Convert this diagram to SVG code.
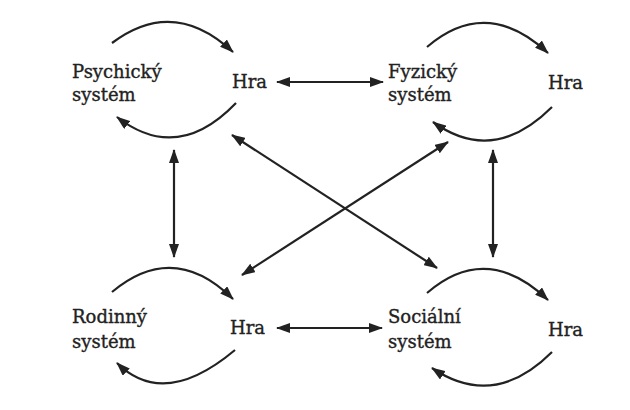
<svg xmlns="http://www.w3.org/2000/svg" width="630" height="410" viewBox="0 0 630 410">
<defs>
<style>
.t{font-family:'DejaVu Serif',serif;font-size:18px;fill:#222;stroke:#222;stroke-width:0.35}
.c{fill:none;stroke:#222;stroke-width:2.2}
</style>
<marker id="ah" viewBox="0 0 14 10" refX="13" refY="5" markerWidth="14" markerHeight="10" markerUnits="userSpaceOnUse" orient="auto-start-reverse">
<path d="M0,0 L14,5 L0,10 z" fill="#222"/>
</marker>
</defs>
<rect width="630" height="410" fill="#fff"/>
<g id="connectors">
<path class="c" d="M112,43 Q173.5,-3.5 233,52" marker-end="url(#ah)"/>
<path class="c" d="M236,103 Q177.5,164 117,117" marker-end="url(#ah)"/>
<path class="c" d="M427,47 Q486.5,-4 548,53" marker-end="url(#ah)"/>
<path class="c" d="M552,107 Q493.5,165.5 433,122" marker-end="url(#ah)"/>
<path class="c" d="M112,292 Q173.5,240.5 233,299" marker-end="url(#ah)"/>
<path class="c" d="M235,350 Q164,409.5 117,363" marker-end="url(#ah)"/>
<path class="c" d="M427,293 Q486.5,241.5 548,300" marker-end="url(#ah)"/>
<path class="c" d="M552,352 Q494,410 432,368" marker-end="url(#ah)"/>
<path class="c" d="M277,82 L383,82" marker-start="url(#ah)" marker-end="url(#ah)"/>
<path class="c" d="M277,328 L382,328" marker-start="url(#ah)" marker-end="url(#ah)"/>
<path class="c" d="M174,150 L174,257" marker-start="url(#ah)" marker-end="url(#ah)"/>
<path class="c" d="M493,150 L493,257" marker-start="url(#ah)" marker-end="url(#ah)"/>
<path class="c" d="M232,135 L437,268" marker-start="url(#ah)" marker-end="url(#ah)"/>
<path class="c" d="M448,142 L242,275" marker-start="url(#ah)" marker-end="url(#ah)"/>
</g>
<g id="psychicky" class="t"><text x="72" y="78">Psychický</text><text x="72" y="101">systém</text></g>
<g id="hra1" class="t"><text x="232" y="88">Hra</text></g>
<g id="fyzicky" class="t"><text x="388" y="78">Fyzický</text><text x="388" y="101">systém</text></g>
<g id="hra2" class="t"><text x="548" y="89">Hra</text></g>
<g id="rodinny" class="t"><text x="72" y="323">Rodinný</text><text x="72" y="348">systém</text></g>
<g id="hra3" class="t"><text x="230" y="334">Hra</text></g>
<g id="socialni" class="t"><text x="388" y="323">Sociální</text><text x="388" y="348">systém</text></g>
<g id="hra4" class="t"><text x="548" y="336">Hra</text></g>
</svg>
